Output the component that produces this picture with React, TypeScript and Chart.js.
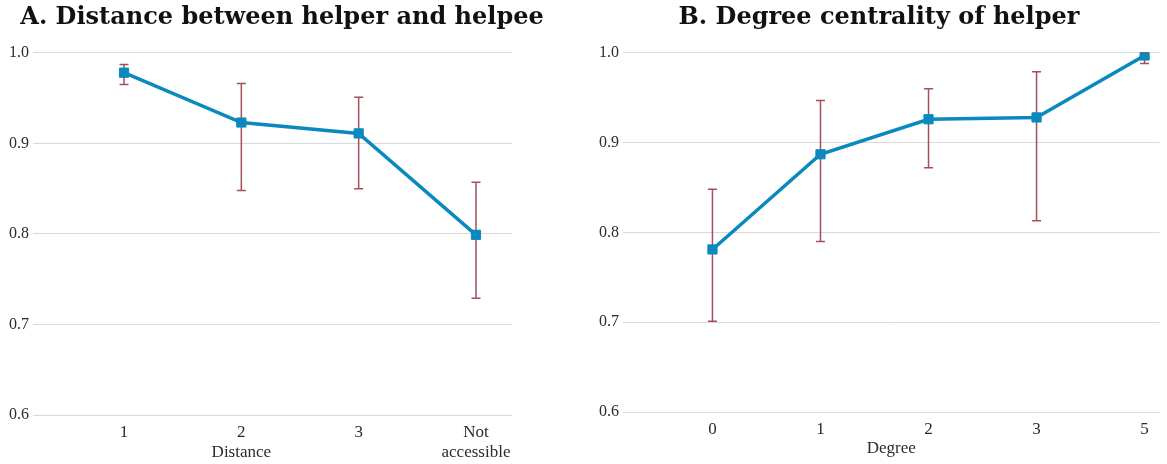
import React, { useEffect, useRef } from "react";
import { Chart, registerables } from "chart.js";

Chart.register(...registerables);

// ---- Panel A data ----
const distanceTitle = "A. Distance between helper and helpee";
const distanceAxisTitle = "Distance";
const distanceLabels: (string | string[])[] = ["1", "2", "3", ["Not", "accessible"]];
const distancePositions = [1, 2, 3, 4];
const distanceMean = [0.978, 0.923, 0.911, 0.799];
const distanceLower = [0.965, 0.848, 0.85, 0.729];
const distanceUpper = [0.987, 0.966, 0.951, 0.857];

// ---- Panel B data ----
const degreeTitle = "B. Degree centrality of helper";
const degreeAxisTitle = "Degree";
const degreeLabels: (string | string[])[] = ["0", "1", "2", "3", "5"];
const degreePositions = [0, 1, 2, 3, 4];
const degreeMean = [0.781, 0.887, 0.926, 0.928, 0.997];
const degreeLower = [0.701, 0.79, 0.872, 0.813, 0.988];
const degreeUpper = [0.848, 0.947, 0.96, 0.979, 1.0];

const yTickValues = [0.6, 0.7, 0.8, 0.9, 1.0];

const LINE_COLOR = "#0a89bf";
const ERR_COLOR = "#a3505a";
const GRID_COLOR = "#d9d9d9";
const TEXT_COLOR = "#2b2b2b";
const SERIF = "'Liberation Serif', 'Times New Roman', serif";

const errorBarPlugin = {
  id: "errorBars",
  beforeDatasetsDraw(chart: any, _args: any, opts: any) {
    if (!opts || !opts.lower) return;
    const { ctx } = chart;
    const xs = chart.scales.x;
    const ys = chart.scales.y;
    ctx.save();
    ctx.strokeStyle = ERR_COLOR;
    ctx.lineWidth = 1.5;
    opts.positions.forEach((p: number, i: number) => {
      const x = xs.getPixelForValue(p);
      const yl = ys.getPixelForValue(opts.lower[i]);
      const yu = ys.getPixelForValue(opts.upper[i]);
      ctx.beginPath();
      ctx.moveTo(x, yl);
      ctx.lineTo(x, yu);
      ctx.moveTo(x - 4.5, yl);
      ctx.lineTo(x + 4.5, yl);
      ctx.moveTo(x - 4.5, yu);
      ctx.lineTo(x + 4.5, yu);
      ctx.stroke();
    });
    ctx.restore();
  },
};

const axisCaptionPlugin = {
  id: "axisCaption",
  afterDraw(chart: any, _args: any, opts: any) {
    if (!opts || !opts.text) return;
    const { ctx } = chart;
    const xs = chart.scales.x;
    const x = opts.at !== undefined ? xs.getPixelForValue(opts.at) : (xs.left + xs.right) / 2;
    ctx.save();
    ctx.font = `${opts.size}px ${SERIF}`;
    ctx.fillStyle = TEXT_COLOR;
    ctx.textAlign = "center";
    ctx.textBaseline = "alphabetic";
    ctx.fillText(opts.text, x, xs.bottom - opts.fromBottom);
    ctx.restore();
  },
};

interface PanelProps {
  title: string;
  axisTitle: string;
  captionAt?: number;
  captionFromBottom: number;
  labels: (string | string[])[];
  positions: number[];
  mean: number[];
  lower: number[];
  upper: number[];
  xMin: number;
  xMax: number;
  yAxisWidth: number;
  rightWidth: number;
  xAxisHeight: number;
  width: number;
  height: number;
}

function Panel(props: PanelProps) {
  const ref = useRef<HTMLCanvasElement | null>(null);
  useEffect(() => {
    if (!ref.current) return;
    const data = props.positions.map((p, i) => ({ x: p, y: props.mean[i] }));
    const chart = new Chart(ref.current, {
      type: "line",
      data: {
        datasets: [
          {
            data,
            borderColor: LINE_COLOR,
            backgroundColor: LINE_COLOR,
            borderWidth: 3.5,
            pointStyle: "rect",
            pointRadius: 6.5,
            pointBorderWidth: 1,
            pointBorderColor: LINE_COLOR,
            pointBackgroundColor: LINE_COLOR,
            tension: 0,
          },
        ],
      },
      plugins: [errorBarPlugin, axisCaptionPlugin],
      options: {
        animation: false,
        responsive: false,
        devicePixelRatio: 1,
        layout: { padding: 0 },
        scales: {
          x: {
            type: "linear",
            min: props.xMin,
            max: props.xMax,
            afterBuildTicks: (axis: any) => {
              axis.ticks = props.positions.map((v) => ({ value: v }));
            },
            afterFit: (axis: any) => {
              axis.height = props.xAxisHeight;
            },
            ticks: {
              autoSkip: false,
              maxRotation: 0,
              padding: 7,
              color: TEXT_COLOR,
              font: { family: SERIF, size: 17 },
              callback: (v: any) => {
                const idx = props.positions.indexOf(Number(v));
                return idx >= 0 ? (props.labels[idx] as any) : "";
              },
            },
            grid: { display: false, drawTicks: false },
            border: { display: false },
          },
          y: {
            min: 0.6,
            max: 1.0,
            afterBuildTicks: (axis: any) => {
              axis.ticks = yTickValues.map((v) => ({ value: v }));
            },
            afterFit: (axis: any) => {
              axis.width = props.yAxisWidth;
            },
            ticks: {
              padding: 4,
              color: TEXT_COLOR,
              font: { family: SERIF, size: 16 },
              callback: (v: any) => Number(v).toFixed(1),
            },
            grid: { color: GRID_COLOR, lineWidth: 1, drawTicks: false },
            border: { display: false },
          },
          yRight: {
            position: "right",
            display: true,
            min: 0,
            max: 1,
            afterFit: (axis: any) => {
              axis.width = props.rightWidth;
            },
            ticks: { display: false },
            grid: { display: false },
            border: { display: false },
          },
        },
        plugins: {
          legend: { display: false },
          tooltip: { enabled: false },
          title: {
            display: true,
            text: props.title,
            color: "#111111",
            font: { family: "'DejaVu Serif', serif", size: 24, weight: "bold" },
            padding: { top: 3, bottom: 21 },
          },
          errorBars: { positions: props.positions, lower: props.lower, upper: props.upper },
          axisCaption: {
            text: props.axisTitle,
            at: props.captionAt,
            size: 17,
            fromBottom: props.captionFromBottom,
          },
        } as any,
      },
    } as any);
    return () => chart.destroy();
  }, []);
  return (
    <canvas
      ref={ref}
      width={props.width}
      height={props.height}
      style={{ width: props.width, height: props.height, display: "block" }}
    />
  );
}

export default function App() {
  return (
    <div
      style={{
        position: "fixed",
        left: 0,
        top: 0,
        width: 1167,
        height: 464,
        background: "#ffffff",
        overflow: "hidden",
      }}
    >
      <div style={{ position: "absolute", left: 0, top: 0 }}>
        <Panel
          title={distanceTitle}
          axisTitle={distanceAxisTitle}
          captionAt={2}
          captionFromBottom={7}
          labels={distanceLabels}
          positions={distancePositions}
          mean={distanceMean}
          lower={distanceLower}
          upper={distanceUpper}
          xMin={0.224}
          xMax={4.307}
          yAxisWidth={33}
          rightWidth={52}
          xAxisHeight={49}
          width={564}
          height={464}
        />
      </div>
      <div style={{ position: "absolute", left: 591, top: 0 }}>
        <Panel
          title={degreeTitle}
          axisTitle={degreeAxisTitle}
          captionFromBottom={11}
          labels={degreeLabels}
          positions={degreePositions}
          mean={degreeMean}
          lower={degreeLower}
          upper={degreeUpper}
          xMin={-0.828}
          xMax={4.138}
          yAxisWidth={32}
          rightWidth={4}
          xAxisHeight={52}
          width={576}
          height={464}
        />
      </div>
    </div>
  );
}
